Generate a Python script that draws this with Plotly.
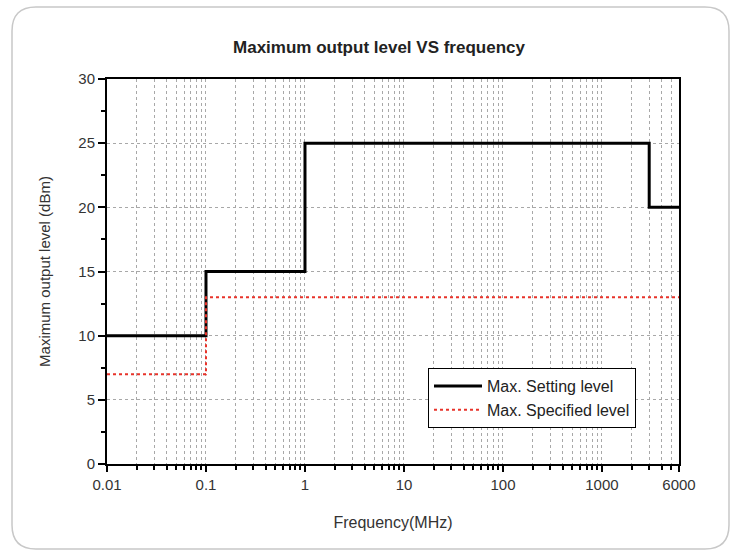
import plotly.graph_objects as go

# ---- data ----
setting_freq = [0.01, 0.1, 1, 3000, 6000]
setting_level = [10, 15, 25, 20, 20]
spec_freq = [0.01, 0.1, 6000]
spec_level = [7, 13, 13]
x_tickvals = [0.01, 0.1, 1, 10, 100, 1000, 6000]
x_ticktext = ["0.01", "0.1", "1", "10", "100", "1000", "6000"]
y_tickvals = [0, 5, 10, 15, 20, 25, 30]

W, H = 737, 552
ML, MR, MT, MB = 107, 58, 79, 88
PW, PH = W - ML - MR, H - MT - MB

FONT = "Arial, Liberation Sans, sans-serif"

minor_vals = [k * 10 ** e for e in range(-2, 4) for k in range(2, 10) if k * 10 ** e < 6000]

fig = go.Figure()
fig.add_trace(go.Scatter(x=setting_freq, y=setting_level, mode="lines", line_shape="hv",
                         line=dict(color="black", width=3), name="Max. Setting level"))
fig.add_trace(go.Scatter(x=spec_freq, y=spec_level, mode="lines", line_shape="hv",
                         line=dict(color="#e8332a", width=2, dash="dot"), name="Max. Specified level"))

def px2paper(px, py):
    return (px - ML) / PW, (H - MB - py) / PH

# rounded outer border
x0, y0, x1, y1, r = 12, 7, 729, 549, 24
def P(px, py):
    a, b = px2paper(px, py)
    return f"{a:.5f},{b:.5f}"
path = (f"M {P(x0 + r, y0)} L {P(x1 - r, y0)} Q {P(x1, y0)} {P(x1, y0 + r)} "
        f"L {P(x1, y1 - r)} Q {P(x1, y1)} {P(x1 - r, y1)} "
        f"L {P(x0 + r, y1)} Q {P(x0, y1)} {P(x0, y1 - r)} "
        f"L {P(x0, y0 + r)} Q {P(x0, y0)} {P(x0 + r, y0)} Z")
fig.add_shape(type="path", path=path, xref="paper", yref="paper",
              line=dict(color="#c8c8c8", width=1.5), layer="below")

fig.update_layout(
    width=W, height=H,
    margin=dict(l=ML, r=MR, t=MT, b=MB),
    paper_bgcolor="white", plot_bgcolor="white",
    font=dict(family=FONT, size=15, color="#333"),
    title=dict(text="<b>Maximum output level VS frequency</b>", x=379 / W, xanchor="center",
               y=1 - 47 / H, yanchor="middle", font=dict(size=17, color="#222")),
    showlegend=True,
    legend=dict(x=(428 - ML) / PW, y=(H - MB - 368) / PH, xanchor="left", yanchor="top",
                bgcolor="white", bordercolor="black", borderwidth=1, itemwidth=48,
                font=dict(size=16, color="#222"), tracegroupgap=0),
)
fig.update_xaxes(
    type="log", range=[-2, 3.77815], tickvals=x_tickvals, ticktext=x_ticktext,
    showline=True, linecolor="black", linewidth=2, mirror=True,
    ticks="outside", ticklen=6, tickwidth=1.5, tickcolor="black",
    tickfont=dict(size=15, color="#333"),
    showgrid=True, gridcolor="#a8a8a8", griddash="dot", gridwidth=1,
    zeroline=False,
    minor=dict(tickvals=minor_vals, ticks="outside", ticklen=4, tickcolor="black", tickwidth=1.5,
               showgrid=True, gridcolor="#a8a8a8", griddash="dot", gridwidth=1),
    title=dict(text="Frequency(MHz)", standoff=25, font=dict(size=16, color="#333")),
)
fig.update_yaxes(
    range=[0, 30], tickvals=y_tickvals,
    showline=True, linecolor="black", linewidth=2, mirror=True,
    ticks="outside", ticklen=7, tickwidth=1.5, tickcolor="black",
    tickfont=dict(size=15, color="#333"),
    showgrid=True, gridcolor="#a8a8a8", griddash="dot", gridwidth=1,
    zeroline=False,
    minor=dict(dtick=2.5, ticks="outside", ticklen=4, tickcolor="black", tickwidth=1.5, showgrid=False),
    title=dict(text="Maximum output level (dBm)", standoff=24, font=dict(size=15, color="#333")),
)

fig.write_html("out.html", config={"displayModeBar": False},
               post_script="document.body.style.margin='0';")
